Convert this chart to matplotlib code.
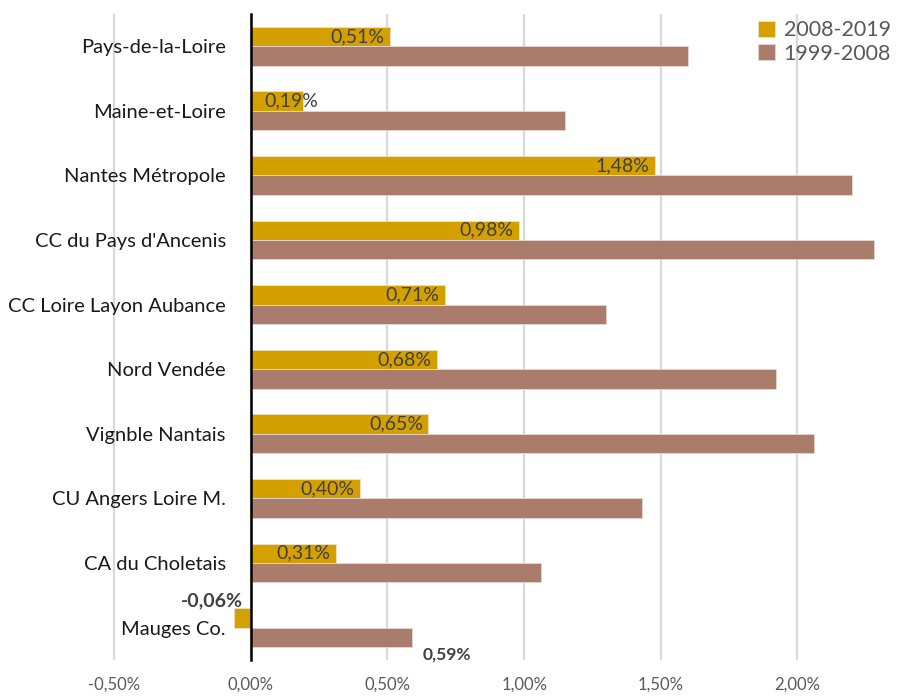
import matplotlib.pyplot as plt
import numpy as np

# donnees
territoires = ["Pays-de-la-Loire", "Maine-et-Loire", "Nantes Métropole", "CC du Pays d'Ancenis",
               "CC Loire Layon Aubance", "Nord Vendée", "Vignble Nantais", "CU Angers Loire M.",
               "CA du Choletais", "Mauges Co."]
taux_2008_2019 = [0.51, 0.19, 1.48, 0.98, 0.71, 0.68, 0.65, 0.40, 0.31, -0.06]
taux_1999_2008 = [1.60, 1.15, 2.20, 2.28, 1.30, 1.92, 2.06, 1.43, 1.06, 0.59]

plt.rcParams['font.family'] = ['Lato', 'DejaVu Sans']

or_ = "#D4A000"
brun = "#A97C6C"

fig = plt.figure(figsize=(9.04, 6.96), dpi=100)
ax = fig.add_axes([0.09, 0.052, 0.91, 0.928])

# axe vertical a 0 (avant de poser les etiquettes, sinon elles sont remises a zero)
for s in ["top", "right", "bottom"]:
    ax.spines[s].set_visible(False)
ax.spines["left"].set_position(("data", 0))
ax.spines["left"].set_linewidth(1.8)
ax.spines["left"].set_zorder(5)

y = np.arange(len(territoires))
h = 0.3
ax.barh(y - h/2, taux_2008_2019, height=h, color=or_, edgecolor="#f0e0c0", linewidth=0.6, label="2008-2019", zorder=3)
ax.barh(y + h/2, taux_1999_2008, height=h, color=brun, edgecolor="#e8d8d0", linewidth=0.6, label="1999-2008", zorder=3)

# etiquettes des barres
for i, v in enumerate(taux_2008_2019):
    txt = f"{v:.2f}%".replace(".", ",")
    if v < 0:
        ax.text(-0.03, i - 0.42, txt, ha="right", va="center", fontsize=14, fontweight="bold", color="#404040", zorder=4)
    elif v < 0.25:
        ax.text(0.05, i - h/2, txt, ha="left", va="center", fontsize=14, color="#404040", zorder=4)
    else:
        ax.text(v - 0.02, i - h/2, txt, ha="right", va="center", fontsize=14, color="#404040", zorder=4)
# seule etiquette de la serie 1999-2008
last = len(territoires) - 1
ax.text(taux_1999_2008[last] + 0.04, last + 0.42, f"{taux_1999_2008[last]:.2f}%".replace(".", ","),
        ha="left", va="center", fontsize=12.5, fontweight="bold", color="#404040", zorder=4)

ax.set_xlim(-0.62, 2.39)
ax.set_ylim(len(territoires) - 0.5, -0.5)
ticks = np.arange(-0.5, 2.01, 0.5)
ax.set_xticks(ticks)
ax.set_xticklabels([f"{t:.2f}%".replace(".", ",") for t in ticks], color="#595959", fontsize=12)
ax.set_yticks(y)
ax.set_yticklabels(territoires, fontsize=14.5, color="#1a1a1a")
ax.tick_params(axis="both", length=0)
ax.tick_params(axis="y", pad=18)
ax.tick_params(axis="x", pad=12)

ax.grid(axis="x", color="#d9d9d9", linewidth=1.6, zorder=0)

leg = ax.legend(loc="upper right", bbox_to_anchor=(1.0, 1.01), frameon=False, fontsize=15.5,
                handlelength=0.8, handleheight=0.8, handletextpad=0.4, labelspacing=0.15,
                labelcolor="#595959", borderaxespad=0.2)

fig.savefig("out.png", dpi=100)
